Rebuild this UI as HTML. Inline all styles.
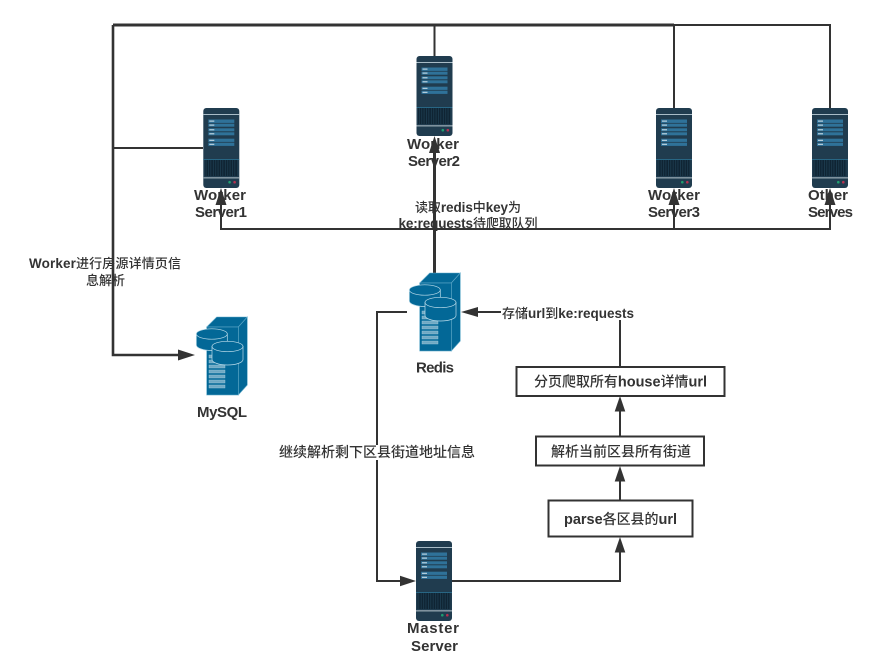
<!DOCTYPE html>
<html>
<head>
<meta charset="utf-8">
<style>
html,body{margin:0;padding:0;background:#fff;width:873px;height:669px;overflow:hidden}
svg{display:block}
text{font-family:"Liberation Sans","Noto Sans CJK SC",sans-serif;font-size:13px;font-weight:500;fill:#333}
.l{font-weight:700;font-size:13.5px}
.b{font-size:14px}
.b .l{font-size:14.5px}
.n{font-size:15px;font-weight:700}
</style>
</head>
<body>
<svg width="873" height="669" viewBox="0 0 873 669" xmlns="http://www.w3.org/2000/svg">
<defs>
<pattern id="gr" x="0" y="0" width="2.4" height="16" patternUnits="userSpaceOnUse">
<rect width="2.4" height="16" fill="#0f2433"/>
<rect x="0" width="0.7" height="16" fill="#1f4155"/>
</pattern>
<g id="srv">
<rect x="0" y="0" width="36" height="80" rx="3" fill="#203c4f"/>
<rect x="0" y="6" width="36" height="1" fill="#a9bcc7"/>
<g fill="#2f7299">
<rect x="5" y="11.5" width="26" height="3.4"/>
<rect x="5" y="15.7" width="26" height="3"/>
<rect x="5" y="20.3" width="26" height="3"/>
<rect x="5" y="24.3" width="26" height="3"/>
<rect x="5" y="30.7" width="26" height="3.2"/>
<rect x="5" y="34.7" width="26" height="3.2"/>
</g>
<g fill="#d5e3ea">
<rect x="6" y="12.6" width="5" height="1"/>
<rect x="6" y="16.6" width="5" height="1"/>
<rect x="6" y="21.3" width="5" height="1"/>
<rect x="6" y="25.3" width="5" height="1"/>
<rect x="6" y="31.8" width="5" height="1"/>
<rect x="6" y="35.8" width="5" height="1"/>
</g>
<rect x="0" y="51" width="36" height="0.8" fill="#2a7191"/>
<rect x="1.5" y="52" width="33" height="16" fill="url(#gr)"/>
<rect x="0" y="69" width="36" height="1.6" fill="#7f929e"/>
<circle cx="26.3" cy="74.2" r="1.3" fill="#1f9e70"/>
<circle cx="31.3" cy="74.2" r="1.3" fill="#b6304f"/>
</g>
<g id="db">
<polygon points="10.7,10 20.7,0 51.3,0 42.3,10" fill="#036897" stroke="#5fa9c9" stroke-width="0.6"/>
<polygon points="42.3,10 51.3,0 51.3,68 42.3,78" fill="#036897" stroke="#5fa9c9" stroke-width="0.6"/>
<rect x="10.7" y="10" width="31.6" height="68" fill="#036897" stroke="#5fa9c9" stroke-width="0.6"/>
<g fill="#6fa9c4" stroke="#a8cfdf" stroke-width="0.4">
<rect x="13" y="38" width="16" height="3"/>
<rect x="13" y="43" width="16" height="3"/>
<rect x="13" y="48" width="16" height="3"/>
<rect x="13" y="53" width="16" height="3"/>
<rect x="13" y="58" width="16" height="3"/>
<rect x="13" y="63" width="16" height="3"/>
<rect x="13" y="68" width="16" height="3"/>
</g>
<path d="M0.3,17 v11 a15.5,5.5 0 0 0 31,0 v-11 z" fill="#036897" stroke="#bcdcea" stroke-width="0.7"/>
<ellipse cx="15.8" cy="17" rx="15.5" ry="5.2" fill="#036897" stroke="#bcdcea" stroke-width="0.7"/>
<path d="M16,29.5 v13 a15.5,5.5 0 0 0 31,0 v-13 z" fill="#036897" stroke="#bcdcea" stroke-width="0.7"/>
<ellipse cx="31.5" cy="29.5" rx="15.5" ry="5.2" fill="#036897" stroke="#bcdcea" stroke-width="0.7"/>
</g>
</defs>

<!-- connectors -->
<g fill="none" stroke="#333" stroke-width="2">
<path d="M113,25 H674" stroke-width="3"/>
<path d="M674,25 H830 V108"/>
<path d="M674,25 V108"/>
<path d="M434.5,25 V56"/>
<path d="M113,25 V355 H180" stroke-width="2.6"/>
<path d="M113,148 H203"/>
<path d="M221,200 V229 H830 V200"/>
<path d="M674,200 V229"/>
<path d="M434.5,145 V273" stroke-width="3"/>
<path d="M407,312 H377 V581 H402"/>
<path d="M452,581 H620 V550"/>
<path d="M620,500 V480"/>
<path d="M620,436 V409"/>
<path d="M620,367 V320"/>
<path d="M501,312 H476"/>
</g>
<g fill="#333">
<polygon points="195,355 178,349.5 178,360.5"/>
<polygon points="221,188 215.5,205 226.5,205"/>
<polygon points="434.5,136 429,153 440,153"/>
<polygon points="674,188 668.5,205 679.5,205"/>
<polygon points="830,188 824.5,205 835.5,205"/>
<polygon points="416,581 400,575.7 400,586.3"/>
<polygon points="620,537 614.7,552.5 625.3,552.5"/>
<polygon points="620,466 614.7,481.5 625.3,481.5"/>
<polygon points="620,396 614.7,411.5 625.3,411.5"/>
<polygon points="461,312 478,307 478,317"/>
</g>

<!-- boxes -->
<g fill="#fff" stroke="#333" stroke-width="2">
<rect x="516.5" y="367" width="208" height="29"/>
<rect x="536" y="436.5" width="168" height="29"/>
<rect x="548.5" y="500.5" width="144" height="36"/>
</g>

<!-- icons -->
<use href="#srv" x="203.3" y="108"/>
<use href="#srv" x="416.5" y="56"/>
<use href="#srv" x="656" y="108"/>
<use href="#srv" x="812" y="108"/>
<use href="#srv" x="416" y="541"/>
<use href="#db" x="409" y="273"/>
<use href="#db" x="196" y="317"/>

<!-- node labels -->
<text class="n" x="194" y="200" textLength="52" lengthAdjust="spacing">Worker</text>
<text class="n" x="195" y="217" textLength="52" lengthAdjust="spacing">Server1</text>
<text class="n" x="407" y="149" textLength="52" lengthAdjust="spacing">Worker</text>
<text class="n" x="408" y="166" textLength="52" lengthAdjust="spacing">Server2</text>
<text class="n" x="648" y="200" textLength="52" lengthAdjust="spacing">Worker</text>
<text class="n" x="648" y="217" textLength="52" lengthAdjust="spacing">Server3</text>
<text class="n" x="808" y="200" textLength="40" lengthAdjust="spacing">Other</text>
<text class="n" x="808" y="217" textLength="45" lengthAdjust="spacing">Serves</text>
<text class="n" x="416" y="372.5" textLength="38" lengthAdjust="spacing">Redis</text>
<text class="n" x="197" y="417" textLength="50" lengthAdjust="spacing">MySQL</text>
<text class="n" x="407" y="633" textLength="52" lengthAdjust="spacing">Master</text>
<text class="n" x="411" y="651" textLength="47" lengthAdjust="spacing">Server</text>

<!-- edge labels -->
<text x="415" y="212" textLength="106" lengthAdjust="spacing">读取<tspan class="l">redis</tspan>中<tspan class="l">key</tspan>为</text>
<text x="398.5" y="228" textLength="139" lengthAdjust="spacing"><tspan class="l">ke:requests</tspan>待爬取队列</text>
<text x="502" y="318" textLength="132" lengthAdjust="spacing">存储<tspan class="l">url</tspan>到<tspan class="l">ke:requests</tspan></text>
<text class="b" x="534" y="386.5" textLength="173" lengthAdjust="spacing">分页爬取所有<tspan class="l">house</tspan>详情<tspan class="l">url</tspan></text>
<text class="b" x="551" y="456.5" textLength="140" lengthAdjust="spacing">解析当前区县所有街道</text>
<text class="b" x="564" y="524" textLength="113" lengthAdjust="spacing"><tspan class="l">parse</tspan>各区县的<tspan class="l">url</tspan></text>
<rect x="279" y="445" width="196" height="15" fill="#fff"/>
<text class="b" x="279" y="457" textLength="196" lengthAdjust="spacing">继续解析剩下区县街道地址信息</text>
<text x="29" y="268" textLength="152" lengthAdjust="spacing"><tspan class="l">Worker</tspan>进行房源详情页信</text>
<text x="86" y="285" textLength="39" lengthAdjust="spacing">息解析</text>
</svg>
</body>
</html>
